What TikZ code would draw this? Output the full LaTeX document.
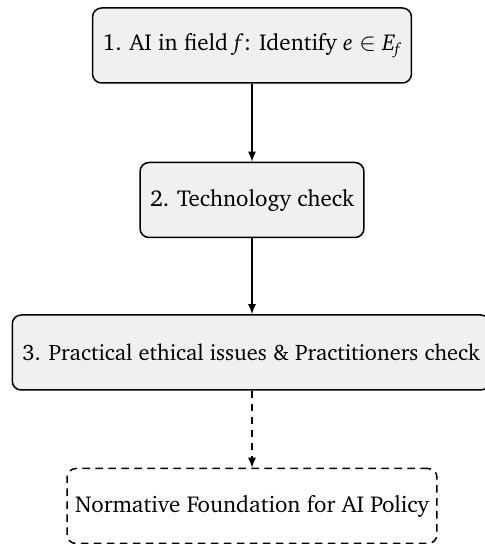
\documentclass[tikz,border=0pt]{standalone}
\usepackage[T1]{fontenc}
\usepackage{charter}
\usetikzlibrary{arrows.meta}
\newcommand{\mvar}[1]{\textit{#1}}
\newcommand{\msub}[1]{\raisebox{-0.35ex}{\fontsize{16}{19}\selectfont\mvar{#1}}}
\begin{document}
\begin{tikzpicture}[x=1pt,y=1pt,
  every node/.style={font=\fontsize{23}{28}\selectfont},
  stepbox/.style={draw=black, line width=1.5pt, fill=gray!12, rounded corners=9pt,
    minimum height=75pt, inner xsep=10pt, align=center},
  widebox/.style={stepbox, font=\fontsize{22.4}{27}\selectfont},
  goalbox/.style={draw=black, line width=1.5pt, dash pattern=on 7.5pt off 5.5pt,
    rounded corners=9pt, minimum height=75pt, inner xsep=8pt, align=center},
  flow/.style={line width=1.5pt, -{Latex[length=10pt,width=8pt]}},
  weakflow/.style={flow, dash pattern=on 7.5pt off 5.5pt}]
\useasboundingbox (0,0) rectangle (485,544);
\node[stepbox] (s1) at (252,498.5) {1. AI in field \mvar{f}: Identify \mvar{e} $\in$ \mvar{E}\msub{f}};
\node[stepbox] (s2) at (252,344) {2. Technology check};
\node[widebox] (s3) at (251,191.5) {3. Practical ethical issues \& Practitioners check};
\node[goalbox] (g) at (252,38) {Normative Foundation for AI Policy};
\draw[flow] (s1) -- (s2);
\draw[flow] (s2) -- (s2 |- s3.north);
\draw[weakflow] (s3.south -| g) -- (g);
\end{tikzpicture}
\end{document}
